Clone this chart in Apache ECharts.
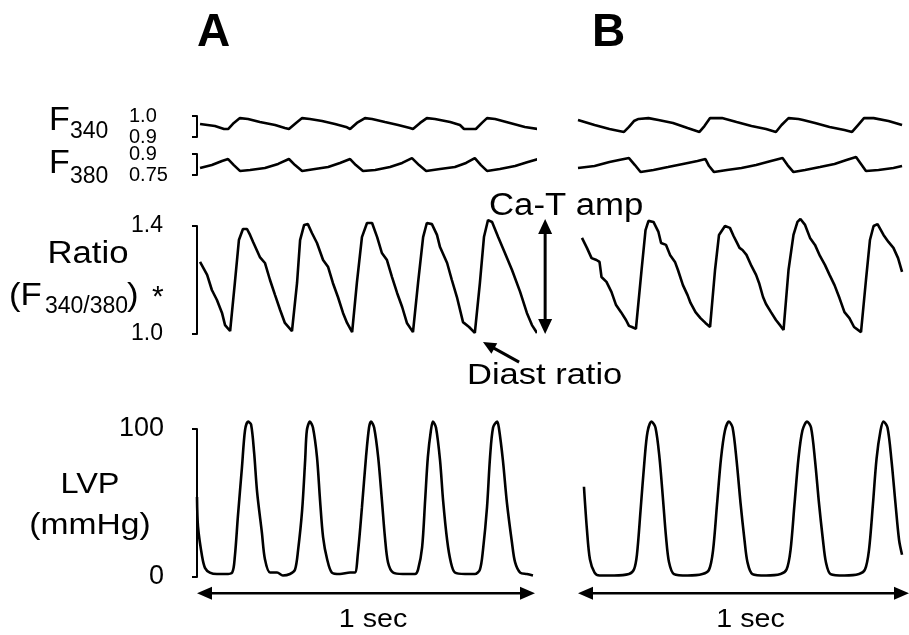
<!DOCTYPE html>
<html><head><meta charset="utf-8">
<script src="https://cdn.jsdelivr.net/npm/echarts@6/dist/echarts.min.js"></script>
<style>html,body{margin:0;padding:0;background:#fff}#c{width:909px;height:635px}</style>
</head><body><div id="c"></div>
<script>
// ---- tick values ----
const f340Ticks = [0.9, 1.0];
const f380Ticks = [0.75, 0.9];
const ratioTicks = [1.0, 1.4];
const lvpTicks = [0, 100];

// ---- Panel A traces: [time (s), value] ----
const aF340 = [[0.009,0.962],[0.053,0.952],[0.080,0.938],[0.092,0.938],[0.109,0.967],[0.127,0.990],[0.151,0.986],[0.186,0.971],[0.231,0.957],[0.260,0.943],[0.272,0.938],[0.293,0.967],[0.311,0.990],[0.334,0.986],[0.370,0.976],[0.408,0.962],[0.441,0.948],[0.453,0.938],[0.473,0.967],[0.497,0.990],[0.518,0.986],[0.556,0.971],[0.595,0.957],[0.630,0.943],[0.639,0.938],[0.660,0.967],[0.680,0.990],[0.704,0.986],[0.749,0.971],[0.778,0.957],[0.790,0.938],[0.825,0.938],[0.843,0.967],[0.858,0.990],[0.882,0.986],[0.926,0.967],[0.970,0.948],[1.009,0.938]];
const aF380 = [[0.009,0.800],[0.044,0.821],[0.074,0.850],[0.092,0.864],[0.109,0.821],[0.127,0.779],[0.157,0.786],[0.201,0.800],[0.240,0.829],[0.272,0.864],[0.290,0.821],[0.311,0.779],[0.349,0.793],[0.388,0.807],[0.423,0.836],[0.453,0.864],[0.470,0.821],[0.491,0.779],[0.527,0.786],[0.571,0.807],[0.607,0.836],[0.636,0.871],[0.657,0.821],[0.678,0.779],[0.719,0.793],[0.763,0.807],[0.796,0.836],[0.822,0.871],[0.840,0.821],[0.858,0.779],[0.896,0.793],[0.941,0.814],[0.979,0.843],[1.009,0.864]];
const aRatio = [[0.009,1.267],[0.030,1.219],[0.044,1.163],[0.059,1.126],[0.074,1.078],[0.083,1.033],[0.098,1.011],
[0.112,1.189],[0.124,1.348],[0.136,1.389],[0.148,1.389],[0.157,1.367],[0.166,1.341],[0.186,1.285],[0.201,1.263],[0.216,1.200],[0.231,1.144],[0.246,1.089],[0.260,1.041],[0.281,1.011],
[0.296,1.189],[0.305,1.348],[0.317,1.404],[0.328,1.407],[0.340,1.374],[0.355,1.337],[0.373,1.274],[0.388,1.248],[0.402,1.189],[0.417,1.137],[0.432,1.078],[0.444,1.041],[0.459,1.007],
[0.473,1.189],[0.488,1.359],[0.503,1.411],[0.518,1.411],[0.533,1.359],[0.547,1.300],[0.562,1.274],[0.577,1.211],[0.592,1.152],[0.607,1.100],[0.621,1.041],[0.639,1.007],
[0.654,1.189],[0.669,1.359],[0.680,1.411],[0.695,1.407],[0.710,1.367],[0.719,1.322],[0.740,1.263],[0.754,1.200],[0.769,1.137],[0.787,1.044],[0.805,1.026],[0.822,1.004],
[0.837,1.189],[0.849,1.359],[0.861,1.422],[0.873,1.415],[0.891,1.359],[0.911,1.300],[0.932,1.237],[0.956,1.156],[0.976,1.078],[0.991,1.033],[1.006,1.004]];
const aLVP = [[0.000,54],[0.003,34],[0.015,14],[0.024,6],[0.038,3],[0.059,2],[0.083,2],[0.104,3],[0.112,14],[0.121,41],[0.133,74],[0.142,99],[0.151,105],[0.160,103],[0.169,84],[0.178,57],[0.192,30],[0.201,12],[0.216,3],[0.237,3],[0.254,1],[0.275,2],[0.290,5],[0.299,18],[0.311,45],[0.320,79],[0.325,99],[0.334,105],[0.343,101],[0.355,81],[0.364,52],[0.373,27],[0.385,12],[0.399,3],[0.423,2],[0.453,3],[0.467,3],[0.476,16],[0.488,47],[0.500,81],[0.509,101],[0.515,105],[0.524,101],[0.536,81],[0.547,52],[0.556,27],[0.565,10],[0.580,3],[0.609,2],[0.645,2],[0.654,5],[0.666,20],[0.675,52],[0.683,81],[0.692,99],[0.698,105],[0.707,101],[0.719,79],[0.728,52],[0.740,25],[0.751,10],[0.763,3],[0.793,2],[0.822,2],[0.837,5],[0.846,18],[0.858,47],[0.867,81],[0.876,101],[0.888,105],[0.893,101],[0.905,79],[0.917,50],[0.932,23],[0.941,10],[0.956,3],[0.976,2],[0.994,1]];

// ---- Panel B traces ----
const bF340 = [[0,0.981],[0.050,0.957],[0.095,0.938],[0.124,0.929],[0.139,0.924],[0.154,0.948],[0.169,0.976],[0.183,0.986],[0.213,0.990],[0.243,0.981],[0.287,0.967],[0.331,0.943],[0.367,0.924],[0.382,0.952],[0.399,0.990],[0.435,0.990],[0.479,0.971],[0.524,0.952],[0.568,0.938],[0.598,0.924],[0.615,0.957],[0.636,0.990],[0.666,0.986],[0.680,0.981],[0.716,0.967],[0.760,0.948],[0.805,0.933],[0.828,0.924],[0.846,0.957],[0.864,0.990],[0.893,0.990],[0.938,0.976],[0.979,0.957]];
const bF380 = [[0,0.800],[0.050,0.814],[0.095,0.843],[0.124,0.857],[0.154,0.871],[0.172,0.821],[0.189,0.771],[0.228,0.786],[0.272,0.807],[0.317,0.829],[0.361,0.850],[0.385,0.864],[0.396,0.814],[0.411,0.771],[0.450,0.786],[0.494,0.800],[0.538,0.821],[0.583,0.850],[0.618,0.871],[0.633,0.821],[0.651,0.771],[0.686,0.786],[0.731,0.807],[0.775,0.829],[0.811,0.857],[0.840,0.879],[0.855,0.829],[0.870,0.779],[0.908,0.786],[0.953,0.800],[0.979,0.814]];
const bRatio = [[0.012,1.356],[0.027,1.319],[0.041,1.281],[0.056,1.274],[0.065,1.267],[0.071,1.211],[0.086,1.193],[0.101,1.156],[0.115,1.107],[0.130,1.081],[0.145,1.052],[0.154,1.030],[0.163,1.026],[0.175,1.019],
[0.192,1.237],[0.204,1.385],[0.213,1.419],[0.228,1.415],[0.243,1.378],[0.251,1.337],[0.266,1.330],[0.278,1.293],[0.293,1.267],[0.302,1.237],[0.317,1.181],[0.331,1.144],[0.340,1.115],[0.355,1.081],[0.370,1.059],[0.385,1.041],[0.399,1.026],
[0.414,1.237],[0.426,1.367],[0.444,1.400],[0.459,1.393],[0.470,1.363],[0.479,1.341],[0.488,1.319],[0.497,1.311],[0.509,1.293],[0.524,1.252],[0.538,1.219],[0.547,1.189],[0.559,1.137],[0.568,1.111],[0.583,1.081],[0.598,1.052],[0.612,1.030],[0.621,1.015],
[0.636,1.237],[0.651,1.367],[0.663,1.415],[0.672,1.426],[0.686,1.404],[0.701,1.356],[0.716,1.330],[0.731,1.289],[0.746,1.256],[0.760,1.219],[0.775,1.181],[0.790,1.133],[0.805,1.081],[0.820,1.059],[0.834,1.026],[0.855,1.007],
[0.870,1.200],[0.882,1.348],[0.893,1.400],[0.905,1.407],[0.923,1.367],[0.938,1.341],[0.953,1.319],[0.967,1.281],[0.979,1.230]];
const bLVP = [[0.018,61],[0.027,32],[0.036,12],[0.050,3],[0.065,1],[0.109,1],[0.154,2],[0.169,5],[0.178,15],[0.189,45],[0.201,79],[0.210,98],[0.222,105],[0.234,101],[0.246,81],[0.257,52],[0.266,27],[0.275,10],[0.290,2],[0.331,1],[0.376,2],[0.396,5],[0.408,18],[0.420,49],[0.432,80],[0.444,99],[0.456,105],[0.467,101],[0.479,79],[0.491,50],[0.503,25],[0.512,10],[0.527,2],[0.568,1],[0.612,2],[0.630,5],[0.642,18],[0.654,49],[0.666,80],[0.678,99],[0.692,105],[0.704,101],[0.716,79],[0.728,50],[0.740,25],[0.749,10],[0.763,2],[0.805,1],[0.849,2],[0.867,5],[0.879,18],[0.891,49],[0.902,80],[0.914,99],[0.923,105],[0.935,101],[0.947,79],[0.959,50],[0.970,25],[0.979,15]];

const FONT = 'Liberation Sans, Arial, Helvetica, sans-serif';
const panelLeft = [197, 578];
const panelWidth = 338;
const rows = [
  {top:116, h:21, min:0.9, max:1.0, ticks:f340Ticks, fmt:v=>v.toFixed(1), size:20, align:'left', offset:14, margin:54, data:[aF340,bF340]},
  {top:154, h:21, min:0.75, max:0.9, ticks:f380Ticks, fmt:v=>String(Math.round(v*100)/100), size:20, align:'left', offset:14, margin:54, data:[aF380,bF380]},
  {top:226, h:108, min:1.0, max:1.4, ticks:ratioTicks, fmt:v=>v.toFixed(1), size:23, align:'right', offset:15, margin:19, data:[aRatio,bRatio]},
  {top:429, h:148, min:0, max:100, ticks:lvpTicks, fmt:v=>String(v), size:27, align:'right', offset:18, margin:15, data:[aLVP,bLVP]}
];

const grid=[], xAxis=[], yAxis=[], series=[];
rows.forEach((r,ri)=>{
  [0,1].forEach(p=>{
    const gi = grid.length;
    grid.push({left:panelLeft[p], top:r.top, width:panelWidth, height:r.h, containLabel:false});
    xAxis.push({type:'value', gridIndex:gi, min:0, max:1, show:false});
    yAxis.push({type:'value', gridIndex:gi, min:r.min, max:r.max, show:p===0, offset:r.offset,
      splitLine:{show:false},
      axisLine:{show:true, lineStyle:{color:'#000', width:2}},
      axisTick:{show:true, length:5, lineStyle:{color:'#000', width:2}, customValues:r.ticks},
      axisLabel:{show:true, customValues:r.ticks, formatter:r.fmt, color:'#000', fontSize:r.size, fontFamily:FONT, align:r.align, margin:r.margin}
    });
    series.push({type:'line', xAxisIndex:gi, yAxisIndex:gi, data:r.data[p], showSymbol:false, symbol:'none',
      clip:false, smooth:ri===3?0.3:false, lineStyle:{color:'#000', width:2.6}, silent:true, animation:false});
  });
});

const chart = echarts.init(document.getElementById('c'), null, {renderer:'canvas'});
chart.setOption({backgroundColor:'#fff', animation:false, grid, xAxis, yAxis, series});

function txt(x,y,text,size,align,weight,sx){
  return {type:'text', x, y, scaleX:sx||1, silent:true, style:{text, fontSize:size, fontFamily:FONT, fontWeight:weight||'normal', fill:'#000', align:align||'left', verticalAlign:'middle'}};
}
function arrow(p1,p2,heads,hl,hw,lw){
  const dx=p2[0]-p1[0], dy=p2[1]-p1[1], L=Math.hypot(dx,dy), ux=dx/L, uy=dy/L, nx=-uy, ny=ux;
  let s=p1.slice(), e=p2.slice();
  if(heads[0]) s=[p1[0]+ux*hl*0.8, p1[1]+uy*hl*0.8];
  if(heads[1]) e=[p2[0]-ux*hl*0.8, p2[1]-uy*hl*0.8];
  const els=[{type:'line', silent:true, shape:{x1:s[0],y1:s[1],x2:e[0],y2:e[1]}, style:{stroke:'#000', lineWidth:lw}}];
  const head=(tip,dx2,dy2)=>({type:'polygon', silent:true, shape:{points:[[tip[0],tip[1]],[tip[0]-dx2*hl+nx*hw/2, tip[1]-dy2*hl+ny*hw/2],[tip[0]-dx2*hl-nx*hw/2, tip[1]-dy2*hl-ny*hw/2]]}, style:{fill:'#000'}});
  if(heads[1]) els.push(head(p2,ux,uy));
  if(heads[0]) els.push(head(p1,-ux,-uy));
  return els;
}
const px=(gi,pt)=>chart.convertToPixel({gridIndex:gi}, pt);

const SX = 1.12;
const g=[];
// panel letters
g.push(txt(197,33,'A',46,'left','bold'));
g.push(txt(592,33,'B',46,'left','bold'));
// left labels
g.push(txt(49,121,'F',34));
g.push(txt(70,132,'340',23));
g.push(txt(49,164,'F',34));
g.push(txt(70,177,'380',23));
g.push(txt(88,254,'Ratio',31,'center','normal',SX));
g.push(txt(9,296,'(F',31,'left','normal',SX));
g.push(txt(45,307,'340/380',23));
g.push(txt(127,296,')',31,'left','normal',SX));
g.push(txt(152,298,'*',30));
g.push(txt(90,485,'LVP',29,'center','normal',SX));
g.push(txt(90,526,'(mmHg)',30,'center','normal',SX));
// annotations
g.push(txt(489,206,'Ca-T amp',31,'left','normal',SX));
g.push(txt(467,376,'Diast ratio',30,'left','normal',1.15));

// time bars (1 sec) under LVP of each panel
[6,7].forEach(gi=>{
  const p1=px(gi,[0,-11]), p2=px(gi,[1,-11]);
  g.push(...arrow(p1,p2,[true,true],15,13,2.5));
  g.push(txt((p1[0]+p2[0])/2+7, p1[1]+27, '1 sec', 26, 'center','normal',1.1));
});
// Ca-T amplitude arrow
g.push(...arrow(px(4,[1.03,1.0]), px(4,[1.03,1.426]), [true,true], 15, 14, 3));
// diastolic ratio arrow
g.push(...arrow(px(4,[0.953,0.896]), px(4,[0.846,0.970]), [false,true], 13, 12, 3));

chart.setOption({graphic:{elements:g}});
</script></body></html>
